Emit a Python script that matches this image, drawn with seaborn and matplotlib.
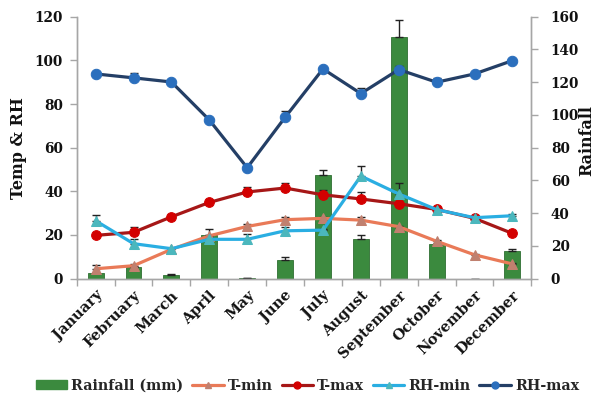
import numpy as np
import pandas as pd
import matplotlib
matplotlib.use("Agg")
import matplotlib.pyplot as plt
from matplotlib.lines import Line2D
from matplotlib.patches import Patch
import seaborn as sns

# Monthly climate data
months = ["January", "February", "March", "April", "May", "June", "July",
          "August", "September", "October", "November", "December"]
rainfall = [3.2, 7.1, 2.0, 26.4, 0.5, 11.6, 63.1, 24.0, 147.4, 21.0, 0.0, 17.0]
rainfall_err = [0.0, 0.0, 0.5, 0.0, 0.0, 1.8, 3.5, 2.9, 10.6, 1.0, 0.0, 1.0]
t_min = [4.5, 5.9, 13.4, 19.6, 23.9, 27.0, 27.6, 26.8, 23.8, 17.1, 10.9, 6.7]
t_min_err = [1.5, 1.0, 0.5, 3.0, 1.0, 1.0, 0.5, 1.5, 0.5, 0.5, 0.5, 0.5]
t_max = [19.8, 21.2, 28.3, 34.9, 39.7, 41.5, 38.4, 36.5, 34.3, 31.7, 27.6, 20.7]
t_max_err = [0.3, 2.5, 1.0, 0.5, 2.5, 2.5, 2.0, 3.0, 0.5, 0.5, 0.5, 0.3]
rh_min = [26.5, 16.0, 13.7, 18.0, 18.0, 21.9, 22.2, 47.0, 38.8, 31.6, 27.9, 28.8]
rh_min_err = [2.5, 2.3, 0.5, 0.5, 2.3, 1.8, 0.3, 4.6, 5.0, 1.0, 0.5, 1.0]
rh_max = [93.8, 92.0, 90.1, 72.7, 50.8, 73.9, 96.1, 84.8, 95.8, 90.0, 93.8, 99.9]
rh_max_err = [0.8, 2.0, 0.5, 0.5, 0.0, 3.0, 0.5, 2.5, 1.5, 2.0, 0.5, 0.5]

left_ticks = [0, 20, 40, 60, 80, 100, 120]
right_ticks = [0, 20, 40, 60, 80, 100, 120, 140, 160]

sns.set_theme(style="white")
plt.rcParams["font.family"] = ["DejaVu Serif"]
plt.rcParams["font.weight"] = "bold"

fig = plt.figure(figsize=(5.97, 3.99), dpi=100)
ax = fig.add_axes([0.1285, 0.3018, 0.7615, 0.6562])
ax2 = ax.twinx()

x = np.arange(len(months))
df = pd.DataFrame({"month": months, "rainfall": rainfall})

# Rainfall bars on the right axis
green = "#3b8a3e"
sns.barplot(data=df, x="month", y="rainfall", ax=ax2, color=green,
            width=0.42, saturation=1, edgecolor="#2f6f32", linewidth=0.6)
ax2.errorbar(x, rainfall, yerr=[np.zeros(12), rainfall_err], fmt="none",
             ecolor="#222222", elinewidth=1.0, capsize=3, capthick=1.0)

# Temperature and humidity lines on the left axis, drawn above the bars
ax.set_zorder(ax2.get_zorder() + 1)
ax.patch.set_visible(False)

series = [
    (t_min, t_min_err, "#e97a58", "^", "#c0806f", 7),
    (t_max, t_max_err, "#a61717", "o", "#d30000", 7),
    (rh_min, rh_min_err, "#2aaee2", "^", "#4bb7bd", 7),
    (rh_max, rh_max_err, "#243f66", "o", "#2b6fbd", 7.5),
]
for vals, err, lc, mk, mc, ms in series:
    ax.errorbar(x, vals, yerr=[np.zeros(12), err], fmt="none",
                ecolor="#222222", elinewidth=1.0, capsize=3, capthick=1.0, zorder=2)
    sns.lineplot(x=x, y=vals, ax=ax, color=lc, linewidth=2.3, marker=mk,
                 markersize=ms, markerfacecolor=mc, markeredgecolor=mc, zorder=3)

ax.set_xlim(-0.5, 11.5)
ax.set_ylim(0, 120)
ax2.set_ylim(0, 160)

spine_col = "#a6a6a6"
for a in (ax, ax2):
    a.spines["top"].set_visible(False)
    for s in ("left", "right", "bottom"):
        a.spines[s].set_color(spine_col)
        a.spines[s].set_linewidth(1.0)
    a.grid(False)

tick_font = dict(fontsize=9.8, fontweight="bold", color="#111111")
ax.set_yticks(left_ticks, [str(v) for v in left_ticks], **tick_font)
ax2.set_yticks(right_ticks, [str(v) for v in right_ticks], **tick_font)
ax.tick_params(axis="y", which="major", direction="out", length=5, width=1,
               color=spine_col, pad=5, left=True)
ax2.tick_params(axis="y", which="major", direction="out", length=5, width=1,
                color=spine_col, pad=9, right=True)

# Category labels, ticks at category boundaries
ax.set_xticks(x)
ax.set_xticklabels(months, rotation=45, ha="right", va="top",
                   rotation_mode="anchor", fontsize=10.5, fontweight="bold",
                   color="#111111")
ax.set_xticks(np.arange(-0.5, 12, 1), minor=True)
ax.tick_params(axis="x", which="major", length=0, pad=7)
ax.tick_params(axis="x", which="minor", direction="out", length=5, width=1,
               color=spine_col, bottom=True)
ax2.set_xlabel("")
ax.set_xlabel("")

ax.set_ylabel("Temp & RH", fontsize=11.5, fontweight="bold", color="#111111")
ax.yaxis.set_label_coords(-0.129, 0.499)
ax.yaxis.label.set_va("center")
ax2.set_ylabel("Rainfall", fontsize=11.5, fontweight="bold", color="#111111",
               rotation=90)
ax2.yaxis.set_label_coords(1.122, 0.529)
ax2.yaxis.label.set_va("center")

handles = [
    Patch(facecolor=green, edgecolor=green, label="Rainfall (mm)"),
    Line2D([0], [0], color="#e97a58", lw=2.3, marker="^", markersize=5,
           markerfacecolor="#c0806f", markeredgecolor="#c0806f", label="T-min"),
    Line2D([0], [0], color="#a61717", lw=2.3, marker="o", markersize=5,
           markerfacecolor="#d30000", markeredgecolor="#d30000", label="T-max"),
    Line2D([0], [0], color="#2aaee2", lw=2.3, marker="^", markersize=5,
           markerfacecolor="#4bb7bd", markeredgecolor="#4bb7bd", label="RH-min"),
    Line2D([0], [0], color="#243f66", lw=2.3, marker="o", markersize=5,
           markerfacecolor="#2b6fbd", markeredgecolor="#2b6fbd", label="RH-max"),
]
fig.legend(handles=handles, loc="center", bbox_to_anchor=(0.515, 0.033),
           ncol=5, frameon=False, handlelength=2.2, handleheight=0.6,
           handletextpad=0.3, columnspacing=0.6,
           prop=dict(size=10.3, weight="bold"))

fig.savefig("out.png", dpi=100)
